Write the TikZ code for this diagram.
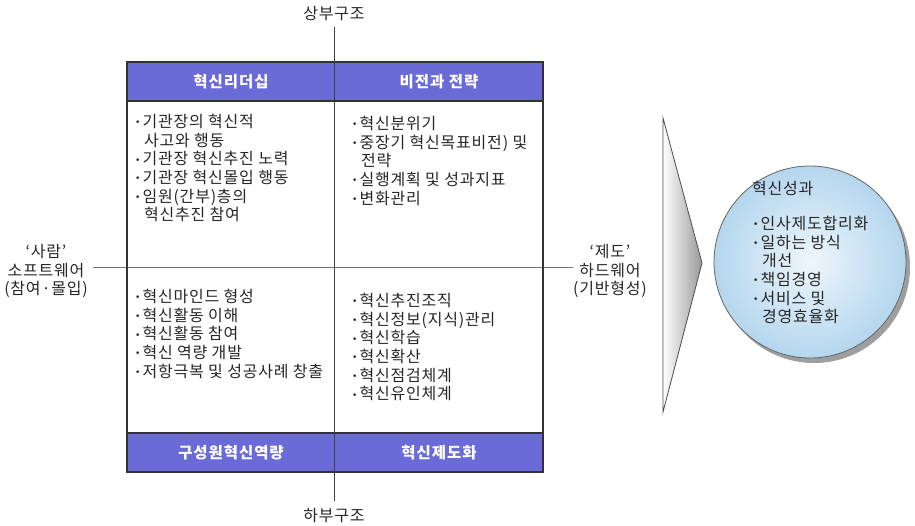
\documentclass[tikz,border=0pt]{standalone}
\usepackage{fontspec}
\setmainfont{Noto Sans CJK KR}
\newfontfamily\dotfont{DejaVu Sans}
\definecolor{hdrblue}{HTML}{6B6BD8}
\definecolor{txtgray}{HTML}{262626}
\definecolor{ballin}{HTML}{EEF6FC}
\definecolor{ballout}{HTML}{B4D6EE}
\newcommand{\bl}{\makebox[7.5pt][l]{\raisebox{1.6pt}{\dotfont\fontsize{9}{9}\selectfont•}}}
\newcommand{\ind}{\hspace*{9pt}}
\begin{document}
\begin{tikzpicture}[x=1pt,y=-1pt,
  every node/.style={inner sep=0pt,outer sep=0pt,text=txtgray},
  lbl/.style={font=\fontsize{16}{18.7}\selectfont\addfontfeature{LetterSpace=5},align=left,anchor=north west},
  side/.style={font=\fontsize{16}{18.7}\selectfont\addfontfeature{LetterSpace=5},align=center},
  hdrtext/.style={font=\fontsize{15.5}{16}\selectfont\bfseries\addfontfeature{LetterSpace=6},text=white},
  hdrfill/.style={fill=hdrblue},
  frame/.style={draw=black!80,line width=1.2pt},
  axis/.style={draw=black!75,line width=0.9pt}]
\useasboundingbox (0,0) rectangle (915,526);

% headers
\fill[hdrfill] (127,62) rectangle (543,101);
\fill[hdrfill] (127,433) rectangle (543,472);
\node[hdrtext] (h1) at (231,82) {혁신리더십};
\node[hdrtext] (h2) at (439,82) {비전과 전략};
\node[hdrtext] (h3) at (231,453) {구성원혁신역량};
\node[hdrtext] (h4) at (439,453) {혁신제도화};

% axis labels
\node[side] (top) at (334,14) {상부구조};
\node[side] (bot) at (334,516) {하부구조};
\node[side] (sw) at (46,271) {‘사람’\\소프트웨어\\(참여·몰입)};
\node[side] (hw) at (610,271) {‘제도’\\하드웨어\\(기반형성)};
\coordinate (hl) at (93,268);
\coordinate (hr) at (573,268);

% axes
\draw[draw=black!55,line width=1pt] (hl) -- (hr);
\draw[axis] ([yshift=-6pt]top.south) -- ([yshift=8pt]bot.north);

% frame
\draw[frame] (127,62) rectangle (543,472);
\draw[frame] (127,101) -- (543,101);
\draw[frame] (127,433) -- (543,433);

% quadrant contents
\node[lbl] (q1) at (135,114) {\bl{}기관장의 혁신적\\\ind{}사고와 행동\\\bl{}기관장 혁신추진 노력\\\bl{}기관장 혁신몰입 행동\\\bl{}임원(간부)층의\\\ind{}혁신추진 참여};
\node[lbl] (q2) at (352,116) {\bl{}혁신분위기\\\bl{}중장기 혁신목표비전) 및\\\ind{}전략\\\bl{}실행계획 및 성과지표\\\bl{}변화관리};
\node[lbl] (q3) at (135,289) {\bl{}혁신마인드 형성\\\bl{}혁신활동 이해\\\bl{}혁신활동 참여\\\bl{}혁신 역량 개발\\\bl{}저항극복 및 성공사례 창출};
\node[lbl] (q4) at (352,293) {\bl{}혁신추진조직\\\bl{}혁신정보(지식)관리\\\bl{}혁신학습\\\bl{}혁신확산\\\bl{}혁신점검체계\\\bl{}혁신유인체계};

% arrow triangle
\shade[left color=white,right color=black!40] (663,118) -- (702,263) -- (663,412) -- cycle;
\draw[draw=black!70,line width=0.8pt] (663,118) -- (702,263) -- (663,412) -- cycle;

% result circle
\fill[black!38] (814,267) circle (96);
\shade[inner color=ballin,outer color=ballout] (810,262) circle (96);
\draw[draw=black!60,line width=0.8pt] (810,262) circle (96);
\node[lbl] (rt) at (752,181) {혁신성과};
\node[lbl] (rb) at (753,216) {\bl{}인사제도합리화\\\bl{}일하는 방식\\\ind{}개선\\\bl{}책임경영\\\bl{}서비스 및\\\ind{}경영효율화};
\end{tikzpicture}
\end{document}
